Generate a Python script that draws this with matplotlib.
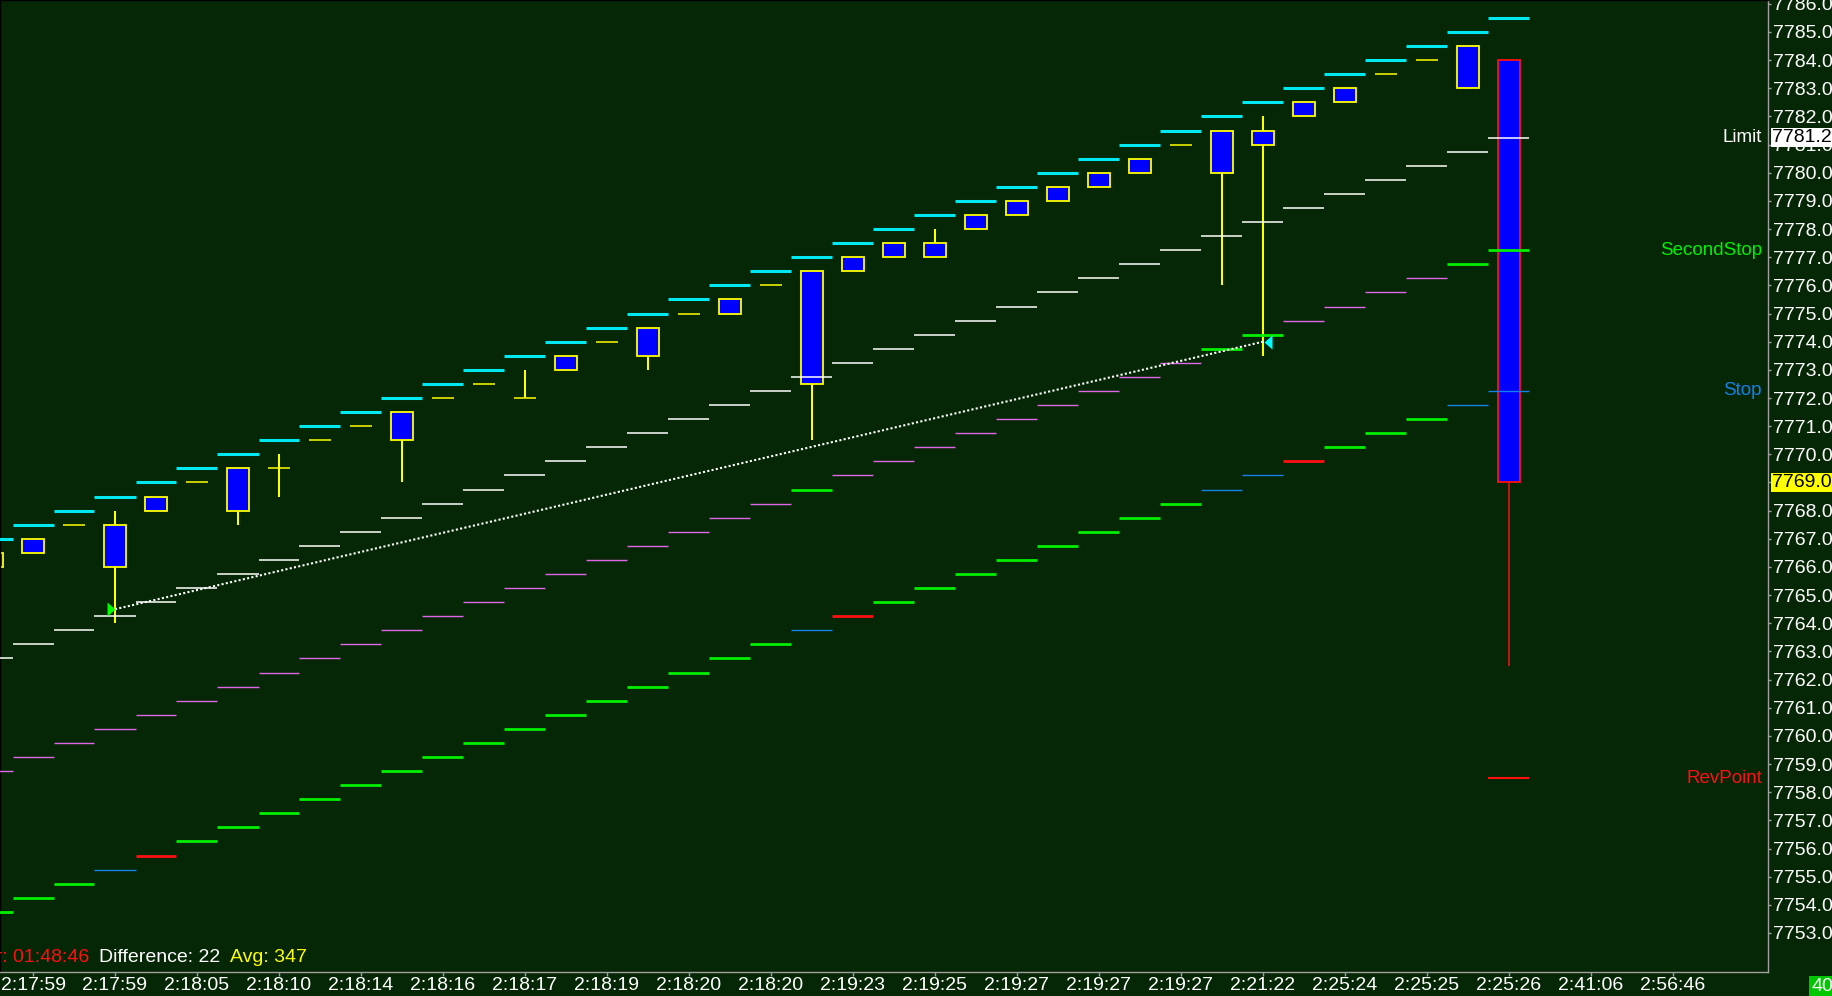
import matplotlib
matplotlib.use("Agg")
import matplotlib.pyplot as plt
from matplotlib.patches import Rectangle
from matplotlib.path import Path
import matplotlib.transforms as mtransforms

# bar index -1 .. 36 (bar -1 is the partly hidden one at the left edge)
bars = list(range(-1, 37))

opens = [7766.0, 7766.5, 7767.5, 7766.0, 7768.0, 7769.0, 7768.0, 7769.5, 7770.5, 7771.0,
         7770.5, 7772.0, 7772.5, 7772.0, 7773.0, 7774.0, 7773.5, 7775.0, 7775.0, 7776.0,
         7772.5, 7776.5, 7777.0, 7777.0, 7778.0, 7778.5, 7779.0, 7779.5, 7780.0, 7781.0,
         7780.0, 7781.0, 7782.0, 7782.5, 7783.5, 7784.0, 7783.0, 7784.0]
highs = [7766.5, 7767.0, 7767.5, 7768.0, 7768.5, 7769.0, 7769.5, 7770.0, 7770.5, 7771.0,
         7771.5, 7772.0, 7772.5, 7773.0, 7773.5, 7774.0, 7774.5, 7775.0, 7775.5, 7776.0,
         7776.5, 7777.0, 7777.5, 7778.0, 7778.5, 7779.0, 7779.5, 7780.0, 7780.5, 7781.0,
         7781.5, 7782.0, 7782.5, 7783.0, 7783.5, 7784.0, 7784.5, 7784.0]
lows = [7766.0, 7766.5, 7767.5, 7764.0, 7768.0, 7769.0, 7767.5, 7768.5, 7770.5, 7771.0,
        7769.0, 7772.0, 7772.5, 7772.0, 7773.0, 7774.0, 7773.0, 7775.0, 7775.0, 7776.0,
        7770.5, 7776.5, 7777.0, 7777.0, 7778.0, 7778.5, 7779.0, 7779.5, 7780.0, 7781.0,
        7776.0, 7773.5, 7782.0, 7782.5, 7783.5, 7784.0, 7783.0, 7762.5]
closes = [7766.5, 7767.0, 7767.5, 7767.5, 7768.5, 7769.0, 7769.5, 7769.5, 7770.5, 7771.0,
          7771.5, 7772.0, 7772.5, 7772.0, 7773.5, 7774.0, 7774.5, 7775.0, 7775.5, 7776.0,
          7776.5, 7777.0, 7777.5, 7777.5, 7778.5, 7779.0, 7779.5, 7780.0, 7780.5, 7781.0,
          7781.5, 7781.5, 7782.5, 7783.0, 7783.5, 7784.0, 7784.5, 7769.0]

upper_band = [7767.0, 7767.5, 7768.0, 7768.5, 7769.0, 7769.5, 7770.0, 7770.5, 7771.0, 7771.5,
              7772.0, 7772.5, 7773.0, 7773.5, 7774.0, 7774.5, 7775.0, 7775.5, 7776.0, 7776.5,
              7777.0, 7777.5, 7778.0, 7778.5, 7779.0, 7779.5, 7780.0, 7780.5, 7781.0, 7781.5,
              7782.0, 7782.5, 7783.0, 7783.5, 7784.0, 7784.5, 7785.0, 7785.5]
limit = [7762.75, 7763.25, 7763.75, 7764.25, 7764.75, 7765.25, 7765.75, 7766.25, 7766.75, 7767.25,
         7767.75, 7768.25, 7768.75, 7769.25, 7769.75, 7770.25, 7770.75, 7771.25, 7771.75, 7772.25,
         7772.75, 7773.25, 7773.75, 7774.25, 7774.75, 7775.25, 7775.75, 7776.25, 7776.75, 7777.25,
         7777.75, 7778.25, 7778.75, 7779.25, 7779.75, 7780.25, 7780.75, 7781.25]
second_stop = [7758.75, 7759.25, 7759.75, 7760.25, 7760.75, 7761.25, 7761.75, 7762.25, 7762.75, 7763.25,
               7763.75, 7764.25, 7764.75, 7765.25, 7765.75, 7766.25, 7766.75, 7767.25, 7767.75, 7768.25,
               7768.75, 7769.25, 7769.75, 7770.25, 7770.75, 7771.25, 7771.75, 7772.25, 7772.75, 7773.25,
               7773.75, 7774.25, 7774.75, 7775.25, 7775.75, 7776.25, 7776.75, 7777.25]
stop = [7753.75, 7754.25, 7754.75, 7755.25, 7755.75, 7756.25, 7756.75, 7757.25, 7757.75, 7758.25,
        7758.75, 7759.25, 7759.75, 7760.25, 7760.75, 7761.25, 7761.75, 7762.25, 7762.75, 7763.25,
        7763.75, 7764.25, 7764.75, 7765.25, 7765.75, 7766.25, 7766.75, 7767.25, 7767.75, 7768.25,
        7768.75, 7769.25, 7769.75, 7770.25, 7770.75, 7771.25, 7771.75, 7772.25]
rev_point = 7758.5
rev_bar = 36

# per-bar state of the two stop lines (g = green, m = magenta, b = blue, r = red)
stop_state = "gggbr" + "g" * 15 + "br" + "g" * 8 + "bbr" + "ggg" + "bb"
second_state = "m" * 20 + "g" + "m" * 9 + "gg" + "m" * 4 + "gg"

entry_bar, entry_price = 2, 7764.5
exit_bar, exit_price = 30, 7774.0

time_labels = ["2:17:59", "2:17:59", "2:18:05", "2:18:10", "2:18:14", "2:18:16", "2:18:17",
               "2:18:19", "2:18:20", "2:18:20", "2:19:23", "2:19:25", "2:19:27", "2:19:27",
               "2:19:27", "2:21:22", "2:25:24", "2:25:25", "2:25:26", "2:41:06", "2:56:46"]
price_ticks = list(range(7753, 7787))

timer_text = "Timer: 01:48:46"
difference = 22
avg = 347
counter_text = "40"

# colours
BG = "#052705"
CYAN = "#00e8f0"
MAGENTA = "#e066e6"
GREEN = "#00f000"
BLUE = "#1580e8"
RED = "#ff1010"
YELLOW = "#ffff00"
BODY = "#0000ff"
GRID = "#a0a0a0"
state_colors = {"g": GREEN, "m": MAGENTA, "b": BLUE, "r": RED}
state_widths = {"g": 2.0, "m": 1.0, "b": 1.0, "r": 2.0}

W, H, DPI = 1832, 996, 100
plt.rcParams["font.family"] = ["Liberation Sans", "DejaVu Sans"]
FS = 14

fig = plt.figure(figsize=(W / DPI, H / DPI), dpi=DPI, facecolor=BG)
ax = fig.add_axes([0, 24 / H, 1768 / W, 972 / H], facecolor=BG)
ax.set_xlim(-33 / 41, (1768 - 33) / 41)
ax.set_ylim(7785 - 940 / 28.156, 7785 + 32 / 28.156)

# candles
BODY_W = 0.54
for b, o, h, l, c in zip(bars, opens, highs, lows, closes):
    edge = RED if c < o else YELLOW
    lo, hi = min(o, c), max(o, c)
    if h > hi or l < lo:
        ax.vlines(b, l, h, color=edge, lw=1.45 if edge == YELLOW else 1.1, zorder=2)
    if hi > lo:
        ax.add_patch(Rectangle((b - BODY_W / 2, lo), BODY_W, hi - lo, facecolor=BODY,
                               edgecolor=edge, lw=1.3, zorder=2.5))
    else:
        ax.hlines(lo, b - BODY_W / 2, b + BODY_W / 2, color=edge, lw=1.1, zorder=2.5)

# step lines
left = [b - 0.5 for b in bars]
right = [b + 0.5 for b in bars]
ax.hlines(upper_band, left, right, colors=CYAN, linewidths=2.2, zorder=3)
ax.hlines(limit, left, right, colors="white", linewidths=1.1, zorder=3)
ax.hlines(second_stop, left, right, colors=[state_colors[s] for s in second_state],
          linewidths=[state_widths[s] for s in second_state], zorder=3)
ax.hlines(stop, left, right, colors=[state_colors[s] for s in stop_state],
          linewidths=[state_widths[s] for s in stop_state], zorder=3)
ax.hlines(rev_point, rev_bar - 0.5, rev_bar + 0.5, colors=RED, linewidths=1.5, zorder=3)

# trade line and arrows
ax.plot([entry_bar, exit_bar], [entry_price, exit_price], color="white", lw=1.5,
        ls=(0, (1, 1.1)), zorder=4)
right_tri = Path([(-8, -7), (0, 0), (-8, 7), (-8, -7)],
                 [Path.MOVETO, Path.LINETO, Path.LINETO, Path.CLOSEPOLY])
left_tri = Path([(1, 0), (9, -7), (9, 7), (1, 0)],
                [Path.MOVETO, Path.LINETO, Path.LINETO, Path.CLOSEPOLY])
ax.plot(entry_bar, entry_price, marker=right_tri, ms=11.5, color="#00ff00", mec="none", ls="none", zorder=5)
ax.plot(exit_bar, exit_price, marker=left_tri, ms=13.0, color="#00ffff", mec="none", ls="none", zorder=5)

# level names inside the plot
lev_trans = mtransforms.blended_transform_factory(ax.transAxes, ax.transData)
level_names = ["Limit", "SecondStop", "Stop", "RevPoint"]
level_values = [limit[-1], second_stop[-1], stop[-1], rev_point]
level_colors = ["white", GREEN, BLUE, RED]
for name, val, col in zip(level_names, level_values, level_colors):
    ax.text(1762 / 1768, val, name, transform=lev_trans, ha="right", va="center",
            color=col, fontsize=FS - 0.5, zorder=6)

# axes styling
for side in ["left", "top"]:
    ax.spines[side].set_color("#000000")
    ax.spines[side].set_linewidth(1.0)
for side in ["right", "bottom"]:
    ax.spines[side].set_color(GRID)
    ax.spines[side].set_linewidth(1.0)

ax.set_xticks(range(0, 2 * len(time_labels), 2))
ax.set_xticklabels(time_labels)
ax.yaxis.tick_right()
ax.set_yticks(price_ticks)
# the close price box replaces its own scale label
ax.set_yticklabels(["" if v == closes[-1] else f"{v:.1f}" for v in price_ticks])
ax.tick_params(axis="x", colors=GRID, labelcolor="white", length=3, width=1, pad=0.5, labelsize=FS)
ax.tick_params(axis="y", colors=GRID, labelcolor="white", length=2.5, width=1, pad=1.3, labelsize=FS)

# price boxes on the right scale
ax.text(1.0 + 4 / 1768, limit[-1], f"{limit[-1]:.2f}", transform=lev_trans, ha="left", va="center",
        color="black", fontsize=FS, zorder=7, clip_on=False,
        bbox=dict(boxstyle="square,pad=0.05", fc="white", ec="none"))
ax.text(1.0 + 4 / 1768, closes[-1], f"{closes[-1]:.2f}", transform=lev_trans, ha="left", va="center",
        color="black", fontsize=FS, zorder=7, clip_on=False,
        bbox=dict(boxstyle="square,pad=0.05", fc=YELLOW, ec="none"))

# status line
fig.text(89 / W, (H - 962) / H, timer_text, ha="right", va="baseline", color=RED, fontsize=FS)
fig.text(99 / W, (H - 962) / H, f"Difference: {difference}", ha="left", va="baseline", color="white", fontsize=FS)
fig.text(230 / W, (H - 962) / H, f"Avg: {avg}", ha="left", va="baseline", color=YELLOW, fontsize=FS)
fig.text(1811 / W, (H - 986) / H, counter_text, ha="left", va="center", color="white", fontsize=FS,
         bbox=dict(boxstyle="square,pad=0.1", fc="#00c800", ec="none"))

fig.savefig("out.png", dpi=DPI, facecolor=BG)
